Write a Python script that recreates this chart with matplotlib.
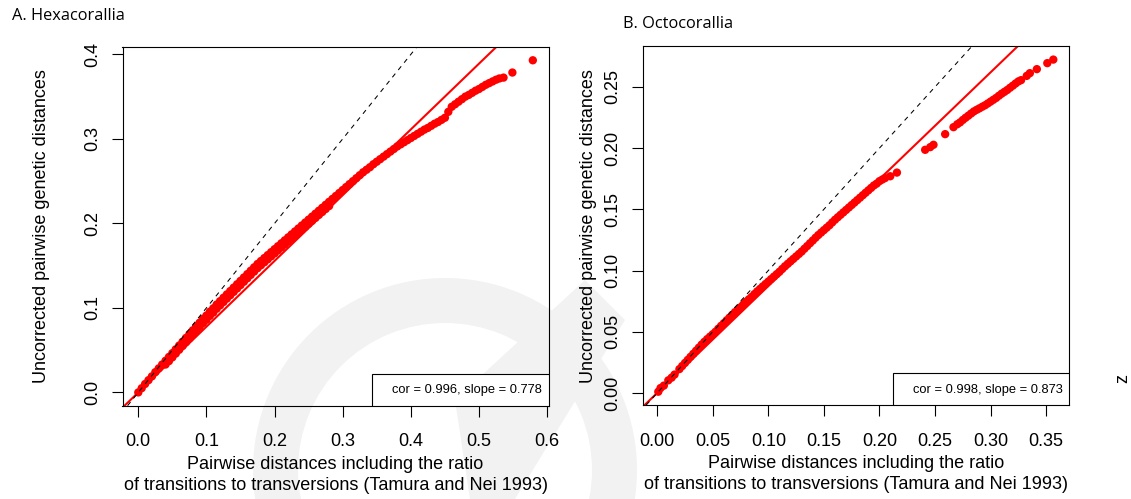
import matplotlib.pyplot as plt
from matplotlib.patches import Rectangle, Wedge, Polygon
from matplotlib.transforms import IdentityTransform

plt.rcParams['font.family'] = ['Liberation Sans', 'DejaVu Sans']

# A. Hexacorallia: TN93 distance vs uncorrected p-distance
hexa_tn93 = [
    0.000, 0.005, 0.010, 0.015, 0.020, 0.025, 0.030, 0.035, 0.040, 0.045,
    0.050, 0.055, 0.060, 0.065, 0.070, 0.075, 0.080, 0.085, 0.090, 0.095,
    0.100, 0.105, 0.110, 0.115, 0.120, 0.125, 0.130, 0.135, 0.140, 0.145,
    0.150, 0.155, 0.160, 0.165, 0.170, 0.175, 0.180, 0.185, 0.190, 0.195,
    0.200, 0.205, 0.210, 0.215, 0.220, 0.225, 0.230, 0.235, 0.240, 0.245,
    0.250, 0.255, 0.260, 0.265, 0.270, 0.275, 0.280, 0.285, 0.290, 0.295,
    0.300, 0.305, 0.310, 0.315, 0.320, 0.325, 0.330, 0.335, 0.340, 0.345,
    0.350, 0.355, 0.360, 0.365, 0.370, 0.375, 0.380, 0.385, 0.390, 0.395,
    0.400, 0.405, 0.410, 0.415, 0.420, 0.425, 0.430, 0.435, 0.440, 0.445,
    0.450, 0.455, 0.460, 0.465, 0.470, 0.475, 0.480, 0.485, 0.490, 0.495,
    0.500, 0.505, 0.510, 0.515, 0.520, 0.525, 0.530, 0.536, 0.549, 0.579,
    # lower edge of the thick band
    0.040, 0.045, 0.050, 0.055, 0.060, 0.065, 0.070, 0.075, 0.080, 0.085,
    0.090, 0.095, 0.100, 0.105, 0.110, 0.115, 0.120, 0.125, 0.130, 0.135,
    0.140, 0.145, 0.150, 0.155, 0.160, 0.165, 0.170, 0.175, 0.180, 0.185,
    0.190, 0.195, 0.200, 0.205, 0.210, 0.215, 0.220, 0.225, 0.230, 0.235,
    0.240, 0.245, 0.250, 0.255, 0.260, 0.265, 0.270, 0.275, 0.280,
]
hexa_p = [
    0.000, 0.005, 0.010, 0.0145, 0.019, 0.024, 0.0285, 0.033, 0.0375, 0.042,
    0.0465, 0.051, 0.0555, 0.060, 0.0645, 0.069, 0.0735, 0.078, 0.0825, 0.087,
    0.091, 0.0955, 0.0995, 0.104, 0.108, 0.112, 0.116, 0.120, 0.124, 0.128,
    0.132, 0.136, 0.140, 0.144, 0.148, 0.152, 0.1555, 0.159, 0.1625, 0.166,
    0.1695, 0.173, 0.1765, 0.180, 0.1835, 0.187, 0.1905, 0.194, 0.1975, 0.201,
    0.2045, 0.208, 0.2115, 0.215, 0.2185, 0.222, 0.2255, 0.229, 0.2325, 0.236,
    0.2395, 0.243, 0.2465, 0.250, 0.2535, 0.257, 0.2605, 0.2635, 0.2665, 0.270,
    0.273, 0.276, 0.279, 0.282, 0.285, 0.288, 0.291, 0.2935, 0.296, 0.2985,
    0.301, 0.3035, 0.306, 0.3085, 0.311, 0.313, 0.3155, 0.318, 0.320, 0.3225,
    0.325, 0.332, 0.338, 0.341, 0.344, 0.347, 0.350, 0.352, 0.3545, 0.357,
    0.359, 0.3615, 0.364, 0.366, 0.368, 0.370, 0.3715, 0.3725, 0.3785, 0.393,
    0.033, 0.037, 0.0415, 0.046, 0.0505, 0.055, 0.0595, 0.064, 0.0685, 0.073,
    0.0775, 0.082, 0.086, 0.0905, 0.0945, 0.099, 0.103, 0.107, 0.111, 0.115,
    0.119, 0.123, 0.127, 0.131, 0.135, 0.139, 0.143, 0.147, 0.1505, 0.154,
    0.1575, 0.161, 0.1645, 0.168, 0.1715, 0.175, 0.1785, 0.182, 0.1855, 0.189,
    0.1925, 0.196, 0.1995, 0.203, 0.2065, 0.210, 0.2135, 0.217, 0.2205,
]

# B. Octocorallia
octo_tn93 = [
    0.001, 0.003, 0.006, 0.010, 0.013, 0.0156, 0.020, 0.025, 0.030, 0.035,
    0.040, 0.045, 0.050, 0.055, 0.060, 0.065, 0.070, 0.075, 0.080, 0.085,
    0.090, 0.095, 0.100, 0.105, 0.110, 0.115, 0.120, 0.125, 0.130, 0.135,
    0.140, 0.145, 0.150, 0.155, 0.160, 0.165, 0.170, 0.175, 0.180, 0.185,
    0.190, 0.195, 0.200, 0.205, 0.2097, 0.2157, 0.2411, 0.2457, 0.2486, 0.2591,
    0.2666, 0.270, 0.275, 0.280, 0.285, 0.290, 0.295, 0.300, 0.305, 0.310,
    0.315, 0.320, 0.325, 0.3274, 0.3325, 0.3353, 0.3416, 0.351, 0.3564,
    # in-between readings along the dense band
    0.0225, 0.0275, 0.0325, 0.0375, 0.0425, 0.0475, 0.0525, 0.0575, 0.0625, 0.0675,
    0.0725, 0.0775, 0.0825, 0.0875, 0.0925, 0.0975, 0.1025, 0.1075, 0.1125, 0.1175,
    0.1225, 0.1275, 0.1325, 0.1375, 0.1425, 0.1475, 0.1525, 0.1575, 0.1625, 0.1675,
    0.1725, 0.1775, 0.1825, 0.1875, 0.1925, 0.1975, 0.2025,
    0.2725, 0.2775, 0.2825, 0.2875, 0.2925, 0.2975, 0.3025, 0.3075, 0.3125, 0.3175,
    0.3225,
]
octo_p = [
    0.001, 0.004, 0.006, 0.0103, 0.0125, 0.015, 0.0195, 0.0245, 0.0295, 0.0345,
    0.0395, 0.044, 0.048, 0.0525, 0.057, 0.0615, 0.066, 0.070, 0.0745, 0.0785,
    0.083, 0.087, 0.091, 0.095, 0.099, 0.1035, 0.1075, 0.1115, 0.1155, 0.120,
    0.1245, 0.129, 0.133, 0.137, 0.1415, 0.1455, 0.1495, 0.1535, 0.1575, 0.1615,
    0.1655, 0.1695, 0.173, 0.1755, 0.177, 0.180, 0.1986, 0.2008, 0.2027, 0.2114,
    0.2171, 0.2195, 0.223, 0.2265, 0.230, 0.2325, 0.235, 0.238, 0.241, 0.2445,
    0.2475, 0.251, 0.2545, 0.2555, 0.259, 0.2612, 0.2645, 0.2694, 0.2723,
    0.022, 0.027, 0.032, 0.037, 0.0418, 0.046, 0.050, 0.0548, 0.0593, 0.0638,
    0.068, 0.0723, 0.0765, 0.0808, 0.085, 0.089, 0.093, 0.097, 0.1013, 0.1055,
    0.1095, 0.1135, 0.1178, 0.1223, 0.1268, 0.131, 0.135, 0.1393, 0.1435, 0.1475,
    0.1515, 0.1555, 0.1595, 0.1635, 0.1675, 0.171, 0.1743,
    0.221, 0.2248, 0.2283, 0.2313, 0.2338, 0.2365, 0.2395, 0.2428, 0.246, 0.2493,
    0.2528,
]

panel_titles = ['A. Hexacorallia', 'B. Octocorallia']
cor_vals = [0.996, 0.998]
slope_vals = [0.778, 0.873]
xticks = [[0.0, 0.1, 0.2, 0.3, 0.4, 0.5, 0.6],
          [0.00, 0.05, 0.10, 0.15, 0.20, 0.25, 0.30, 0.35]]
yticks = [[0.0, 0.1, 0.2, 0.3, 0.4],
          [0.00, 0.05, 0.10, 0.15, 0.20, 0.25]]
tick_fmt = ['{:.1f}', '{:.2f}']

W, H = 1131, 499
fig = plt.figure(figsize=(W / 100, H / 100), dpi=100)


def px(x, y):
    # image pixel (from top-left) -> display coords
    return (x, H - y)


# faint watermark behind everything
wm = '#f2f2f2'
ring = Wedge(px(445, 470), 192, 0, 360, width=45, transform=IdentityTransform(),
             facecolor=wm, edgecolor='none', zorder=-10)
slash = Polygon([px(455, 400), px(585, 280), px(625, 320), px(515, 499), px(470, 499)],
                closed=True, transform=IdentityTransform(), facecolor=wm,
                edgecolor='none', zorder=-10)
fig.add_artist(ring)
fig.add_artist(slash)

ax1 = fig.add_axes([122.5 / W, (H - 405.7) / H, 426.1 / W, 358.7 / H])
ax2 = fig.add_axes([642.5 / W, (H - 405.0) / H, 426.6 / W, 358.7 / H])
axes = [ax1, ax2]
data = [(hexa_tn93, hexa_p), (octo_tn93, octo_p)]
ylab_x = [-0.1713, -0.1067]

for i, ax in enumerate(axes):
    xs, ys = data[i]
    ax.set_facecolor('none')
    ax.scatter(xs, ys, s=36, color='#ff0000', edgecolors='none', zorder=3)
    # R-style 4% padding
    xr = max(xs) - min(xs)
    yr = max(ys) - min(ys)
    ax.set_xlim(min(xs) - 0.04 * xr, max(xs) + 0.04 * xr)
    ax.set_ylim(min(ys) - 0.04 * yr, max(ys) + 0.04 * yr)

    ax.axline((0, 0), slope=1, color='black', lw=0.75, linestyle=(0, (4.5, 4.5)), zorder=4)
    ax.axline((0, 0), slope=slope_vals[i], color='#ff0000', lw=1.5, zorder=2)

    ax.set_xticks(xticks[i])
    ax.set_xticklabels([tick_fmt[i].format(v) for v in xticks[i]])
    ax.set_yticks(yticks[i])
    ax.set_yticklabels([tick_fmt[i].format(v) for v in yticks[i]], rotation=90, va='center')
    ax.tick_params(axis='both', direction='out', length=8, width=0.8, labelsize=13, color='black')
    ax.tick_params(axis='x', pad=12)
    ax.tick_params(axis='y', pad=7.5)
    for sp in ax.spines.values():
        sp.set_linewidth(0.8)

    ax.set_xlabel('Pairwise distances including the ratio\n'
                  'of transitions to transversions (Tamura and Nei 1993)',
                  fontsize=13, linespacing=1.3)
    ax.xaxis.set_label_coords(0.5, -0.14)
    ax.set_ylabel('Uncorrected pairwise genetic distances', fontsize=13)
    ax.yaxis.set_label_coords(ylab_x[i], 0.5)

    # legend-like box in the bottom right corner
    ax.add_patch(Rectangle((0.5866, 0.0), 0.4134, 0.089, transform=ax.transAxes,
                           facecolor='white', edgecolor='black', lw=0.8, zorder=5))
    ax.text(0.985, 0.043, 'cor = {:.3f}, slope = {:.3f}'.format(cor_vals[i], slope_vals[i]),
            transform=ax.transAxes, ha='right', va='center', fontsize=9.3, zorder=6)

fig.text(11.7 / W, 1 - 15.7 / H, panel_titles[0], family='Open Sans', fontsize=11.8,
         ha='left', va='center')
fig.text(622.7 / W, 1 - 24 / H, panel_titles[1], family='Open Sans', fontsize=11.8,
         ha='left', va='center')
fig.text(1123 / W, 1 - 378.3 / H, 'z', rotation=90, fontsize=13, ha='center', va='center')

fig.savefig('out.png', dpi=100)
